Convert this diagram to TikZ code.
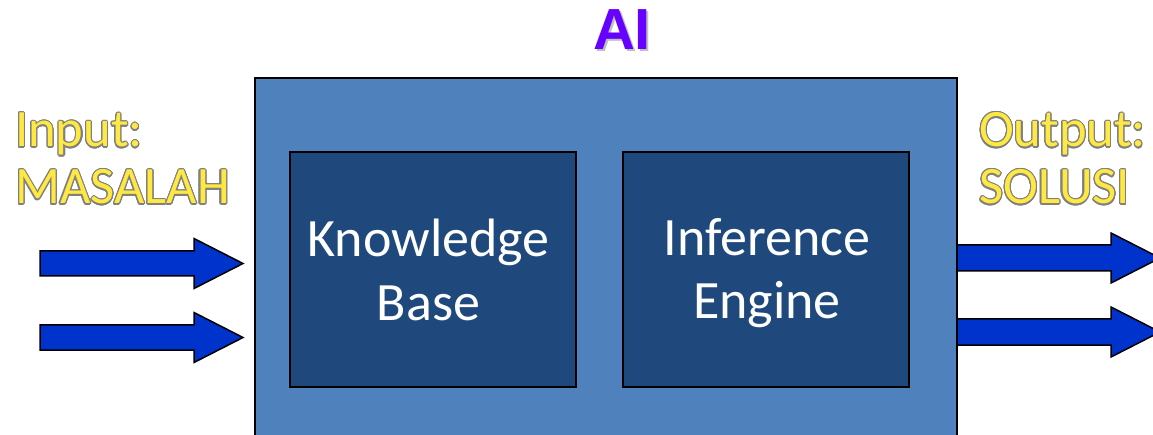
\documentclass[tikz,border=0pt]{standalone}
\usepackage{fontspec}
\setmainfont{Carlito}
\newfontfamily\aifont{Liberation Sans}
\usepackage[copies]{contour}
\contourlength{1.1pt}
\contournumber{24}
\definecolor{outerblue}{HTML}{4F81BD}
\definecolor{innerblue}{HTML}{1F497D}
\definecolor{arrowblue}{HTML}{0033CC}
\definecolor{txtyellow}{HTML}{FFE941}
\definecolor{aipurple}{HTML}{6600FF}
\begin{document}
\begin{tikzpicture}[x=1pt,y=-1pt,
  outerbox/.style={fill=outerblue,draw=black,line width=2pt},
  innerbox/.style={fill=innerblue,draw=black,line width=1.5pt},
  blockarrow/.style={fill=arrowblue,draw=black,line width=1.5pt,line join=miter},
  label/.style={anchor=base west,inner sep=0pt,font=\fontsize{52.5}{52}\selectfont},
  boxtext/.style={text=white,align=center,anchor=base,inner sep=0pt,font=\fontsize{54}{63}\selectfont}]
\useasboundingbox (0,0) rectangle (1153,435);
% outer AI box
\draw[outerbox] (255,78) rectangle (957,445);
\node[innerbox,minimum width=286pt,minimum height=235pt,inner sep=0pt] (kb) at (433,269.5) {};
\node[innerbox,minimum width=286pt,minimum height=235pt,inner sep=0pt] (ie) at (766,269.5) {};
\node[boxtext] (kbt) at (428.5,320) {Knowledge\\Base};
\node[boxtext] (iet) at (767,319) {Inference\\Engine};
% title
\node[anchor=base,inner sep=0pt,text=black!25] (aish) at (624,52) {\aifont\bfseries\fontsize{58}{58}\selectfont AI};
\node[anchor=base,inner sep=0pt,text=aipurple] (ai) at (622,50) {\aifont\bfseries\fontsize{58}{58}\selectfont AI};
% labels
\node[label] (in1) at (15,147) {\contour{gray}{\textcolor{txtyellow}{Input:}}};
\node[label] (in2) at (15,204) {\contour{gray}{\textcolor{txtyellow}{MASALAH}}};
\node[label] (out1) at (979,147) {\contour{gray}{\textcolor{txtyellow}{Output:}}};
\node[label] (out2) at (979,204) {\contour{gray}{\textcolor{txtyellow}{SOLUSI}}};
% input arrows
\foreach \yc in {263.5,337.5}{
  \draw[blockarrow] (40,\yc-12.5) -- (194,\yc-12.5) -- (194,\yc-25) -- (243,\yc)
    -- (194,\yc+25) -- (194,\yc+12.5) -- (40,\yc+12.5) -- cycle;
}
% output arrows
\foreach \yc in {258,332}{
  \draw[blockarrow] (958,\yc-13) -- (1111,\yc-13) -- (1111,\yc-25) -- (1160,\yc)
    -- (1111,\yc+25) -- (1111,\yc+13) -- (958,\yc+13);
}
\end{tikzpicture}
\end{document}
